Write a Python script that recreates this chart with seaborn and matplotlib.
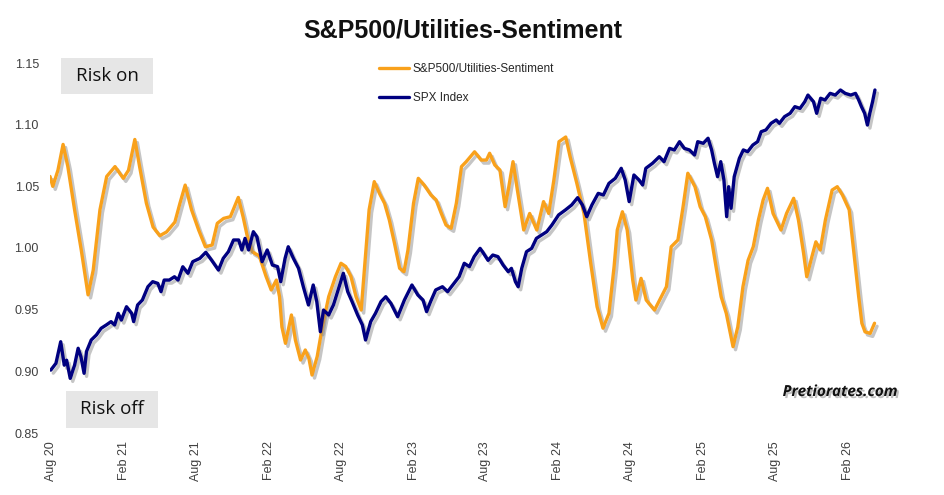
import matplotlib
matplotlib.use("Agg")
import matplotlib.pyplot as plt
import matplotlib.dates as mdates
import matplotlib.patheffects as pe
from matplotlib.lines import Line2D
from matplotlib.patches import Rectangle
import pandas as pd
import seaborn as sns

# ---------------- data ----------------
series_names = ["S&P500/Utilities-Sentiment", "SPX Index"]
series_colors = ["#F9A11B", "#000080"]

sentiment_dates = [
    "2020-07-29", "2020-08-05", "2020-08-18", "2020-08-31", "2020-09-12", "2020-09-29", "2020-10-16",
    "2020-11-02", "2020-11-15", "2020-12-02", "2020-12-19", "2021-01-09", "2021-01-30", "2021-02-12",
    "2021-02-28", "2021-03-12", "2021-03-29", "2021-04-15", "2021-05-02", "2021-05-19", "2021-06-09",
    "2021-06-22", "2021-07-05", "2021-07-21", "2021-08-08", "2021-08-25", "2021-09-11", "2021-09-24",
    "2021-10-10", "2021-10-27", "2021-11-16", "2021-11-28", "2021-12-08", "2021-12-21", "2022-01-08",
    "2022-01-25", "2022-02-07", "2022-02-20", "2022-02-28", "2022-03-06", "2022-03-15", "2022-03-30",
    "2022-04-09", "2022-04-22", "2022-05-04", "2022-05-13", "2022-05-21", "2022-06-03", "2022-06-16",
    "2022-07-02", "2022-07-19", "2022-08-02", "2022-08-14", "2022-08-27", "2022-09-09", "2022-09-22",
    "2022-09-30", "2022-10-12", "2022-10-25", "2022-11-07", "2022-11-20", "2022-12-02", "2022-12-15",
    "2022-12-28", "2023-01-08", "2023-01-18", "2023-02-01", "2023-02-13", "2023-02-28", "2023-03-17",
    "2023-03-30", "2023-04-12", "2023-04-24", "2023-05-07", "2023-05-20", "2023-06-02", "2023-06-14",
    "2023-07-05", "2023-07-22", "2023-08-04", "2023-08-12", "2023-08-25", "2023-09-07", "2023-09-20",
    "2023-09-28", "2023-10-10", "2023-10-21", "2023-11-06", "2023-11-21", "2023-12-09", "2023-12-26",
    "2024-01-08", "2024-01-21", "2024-02-03", "2024-02-20", "2024-03-02", "2024-03-19", "2024-04-06",
    "2024-04-23", "2024-05-09", "2024-05-24", "2024-06-08", "2024-06-21", "2024-06-29", "2024-07-12",
    "2024-07-24", "2024-08-07", "2024-08-15", "2024-08-28", "2024-09-10", "2024-10-01", "2024-10-18",
    "2024-10-31", "2024-11-12", "2024-11-29", "2024-12-12", "2024-12-24", "2025-01-11", "2025-01-24",
    "2025-02-06", "2025-02-22", "2025-03-05", "2025-03-18", "2025-03-31", "2025-04-17", "2025-04-29",
    "2025-05-12", "2025-05-25", "2025-06-07", "2025-06-20", "2025-07-02", "2025-07-13", "2025-07-27",
    "2025-08-16", "2025-08-30", "2025-09-17", "2025-09-29", "2025-10-12", "2025-10-20", "2025-11-02",
    "2025-11-12", "2025-11-23", "2025-12-06", "2025-12-23", "2026-01-05", "2026-01-18", "2026-02-04",
    "2026-02-16", "2026-02-28", "2026-03-08", "2026-03-16", "2026-03-29", "2026-04-09",
]
sentiment_values = [
    1.058, 1.050, 1.063, 1.084, 1.066, 1.031, 0.998,
    0.962, 0.982, 1.031, 1.058, 1.066, 1.0565, 1.063,
    1.088, 1.066, 1.0365, 1.017, 1.010, 1.013, 1.021,
    1.0365, 1.051, 1.031, 1.0146, 1.001, 1.0024, 1.020,
    1.024, 1.0254, 1.041, 1.0254, 1.0105, 0.997, 0.9935,
    0.977, 0.966, 0.974, 0.9605, 0.936, 0.9227, 0.9457,
    0.9254, 0.9092, 0.9173, 0.9106, 0.897, 0.912, 0.936,
    0.9605, 0.9767, 0.9876, 0.985, 0.977, 0.9605, 0.9497,
    0.982, 1.031, 1.0538, 1.0443, 1.0362, 1.0227, 1.0038,
    0.9835, 0.9808, 0.9984, 1.0362, 1.0565, 1.051, 1.043,
    1.039, 1.0281, 1.0186, 1.016, 1.0362, 1.066, 1.070,
    1.078, 1.0713, 1.0713, 1.0768, 1.0673, 1.0632, 1.0335,
    1.047, 1.070, 1.047, 1.0146, 1.028, 1.0146, 1.0376,
    1.028, 1.055, 1.0862, 1.090, 1.074, 1.0524, 1.028,
    0.9876, 0.9524, 0.935, 0.947, 0.985, 1.0146, 1.0294,
    1.0146, 0.974, 0.9578, 0.9754, 0.9578, 0.9497, 0.9605,
    0.9686, 1.001, 1.0065, 1.0335, 1.0606, 1.0497, 1.0335,
    1.0254, 1.0065, 0.985, 0.9605, 0.947, 0.920, 0.936,
    0.9686, 0.990, 1.001, 1.0227, 1.039, 1.0484, 1.028,
    1.0146, 1.028, 1.0403, 1.0227, 0.9957, 0.9767, 0.993,
    1.005, 0.9984, 1.0227, 1.047, 1.0497, 1.043, 1.031,
    0.9957, 0.9605, 0.939, 0.932, 0.9308, 0.939,
]

spx_dates = [
    "2020-07-31", "2020-08-13", "2020-08-25", "2020-09-03", "2020-09-09",
    "2020-09-18", "2020-09-29", "2020-10-08", "2020-10-15", "2020-10-23",
    "2020-10-29", "2020-11-10", "2020-11-23", "2020-12-05", "2020-12-18",
    "2020-12-30", "2021-01-08", "2021-01-17", "2021-01-25", "2021-02-07",
    "2021-02-20", "2021-02-25", "2021-03-07", "2021-03-19", "2021-04-02",
    "2021-04-14", "2021-04-27", "2021-05-05", "2021-05-13", "2021-05-26",
    "2021-06-08", "2021-06-17", "2021-06-29", "2021-07-12", "2021-07-24",
    "2021-08-11", "2021-08-26", "2021-09-10", "2021-09-27", "2021-10-09",
    "2021-10-22", "2021-11-04", "2021-11-17", "2021-11-25", "2021-12-03",
    "2021-12-12", "2021-12-24", "2022-01-02", "2022-01-15", "2022-01-28",
    "2022-02-10", "2022-02-23", "2022-03-03", "2022-03-14", "2022-03-22",
    "2022-04-04", "2022-04-17", "2022-04-29", "2022-05-12", "2022-05-24",
    "2022-06-02", "2022-06-11", "2022-06-19", "2022-07-02", "2022-07-14",
    "2022-07-27", "2022-08-08", "2022-08-19", "2022-08-30", "2022-09-13",
    "2022-09-25", "2022-10-03", "2022-10-16", "2022-10-28", "2022-11-11",
    "2022-11-23", "2022-12-06", "2022-12-23", "2023-01-09", "2023-01-28",
    "2023-02-12", "2023-02-25", "2023-03-06", "2023-03-16", "2023-03-29",
    "2023-04-15", "2023-04-28", "2023-05-14", "2023-05-27", "2023-06-09",
    "2023-06-22", "2023-07-04", "2023-07-19", "2023-07-25", "2023-08-08",
    "2023-08-20", "2023-09-02", "2023-09-15", "2023-09-28", "2023-10-06",
    "2023-10-16", "2023-10-23", "2023-11-01", "2023-11-13", "2023-11-26",
    "2023-12-08", "2023-12-21", "2024-01-03", "2024-01-16", "2024-02-02",
    "2024-02-19", "2024-03-06", "2024-03-21", "2024-04-02", "2024-04-13",
    "2024-04-26", "2024-05-12", "2024-05-25", "2024-06-08", "2024-06-24",
    "2024-07-09", "2024-07-19", "2024-07-29", "2024-08-10", "2024-08-23",
    "2024-09-01", "2024-09-09", "2024-09-26", "2024-10-13", "2024-10-25",
    "2024-11-08", "2024-11-20", "2024-12-03", "2024-12-15", "2024-12-28",
    "2025-01-10", "2025-01-18", "2025-02-01", "2025-02-13", "2025-02-22",
    "2025-03-01", "2025-03-09", "2025-03-17", "2025-03-25", "2025-04-01",
    "2025-04-06", "2025-04-12", "2025-04-20", "2025-05-03", "2025-05-13",
    "2025-05-24", "2025-06-06", "2025-06-18", "2025-06-27", "2025-07-09",
    "2025-07-22", "2025-08-04", "2025-08-12", "2025-08-25", "2025-09-08",
    "2025-09-20", "2025-10-03", "2025-10-15", "2025-10-23", "2025-11-06",
    "2025-11-14", "2025-11-24", "2025-12-05", "2025-12-18", "2025-12-31",
    "2026-01-13", "2026-01-25", "2026-02-08", "2026-02-20", "2026-02-28",
    "2026-03-07", "2026-03-15", "2026-03-22", "2026-03-28", "2026-04-04",
    "2026-04-10",
]
spx_values = [
    0.901, 0.9065, 0.924, 0.905, 0.909,
    0.8943, 0.905, 0.9187, 0.9119, 0.8984,
    0.916, 0.9254, 0.9295, 0.9349, 0.9376,
    0.9403, 0.9376, 0.947, 0.9416, 0.9524,
    0.947, 0.9403, 0.9538, 0.9578, 0.9686,
    0.9727, 0.9713, 0.9646, 0.974, 0.974,
    0.9767, 0.974, 0.9848, 0.9795, 0.9889,
    0.9916, 0.9965, 0.990, 0.9821, 0.9916,
    0.997, 1.0065, 1.0065, 0.9984, 1.0078,
    0.9984, 1.0132, 1.009, 0.9889, 0.9984,
    0.9862, 0.9849, 0.9727, 0.9916, 1.001,
    0.9916, 0.9835, 0.9686, 0.9538, 0.970,
    0.9565, 0.9321, 0.9497, 0.9457, 0.9538,
    0.9673, 0.9795, 0.9646, 0.9565, 0.9457,
    0.9376, 0.9254, 0.9403, 0.947, 0.9565,
    0.9605, 0.9551, 0.9443, 0.9578, 0.970,
    0.9619, 0.9578, 0.9484, 0.9565, 0.966,
    0.9686, 0.9646, 0.9713, 0.9767, 0.9876,
    0.9849, 0.993, 0.9997, 0.997, 0.990,
    0.9943, 0.993, 0.9862, 0.9808, 0.9835,
    0.9727, 0.9686, 0.9835, 0.997, 0.9997,
    1.0078, 1.0105, 1.0132, 1.0186, 1.0268,
    1.0308, 1.0349, 1.0408, 1.0349, 1.0254,
    1.0349, 1.0443, 1.043, 1.0524, 1.0565,
    1.0646, 1.0551, 1.0376, 1.0592, 1.0551,
    1.0511, 1.0646, 1.0687, 1.074, 1.070,
    1.0808, 1.0795, 1.0862, 1.0808, 1.0795,
    1.0754, 1.0862, 1.0849, 1.089, 1.0795,
    1.0687, 1.0578, 1.070, 1.0551, 1.0254,
    1.0497, 1.0322, 1.0578, 1.0727, 1.0795,
    1.0781, 1.0835, 1.0862, 1.0943, 1.0957,
    1.1011, 1.1038, 1.1011, 1.1065, 1.1092,
    1.1146, 1.1132, 1.1186, 1.124, 1.1186,
    1.1092, 1.1214, 1.12, 1.1254, 1.124,
    1.1281, 1.1254, 1.124, 1.1254, 1.12,
    1.1146, 1.1092, 1.0997, 1.1092, 1.1186,
    1.1281,
]

y_ticks = [0.85, 0.90, 0.95, 1.00, 1.05, 1.10, 1.15]
title_text = "S&P500/Utilities-Sentiment"
box_texts = ["Risk on", "Risk off"]
brand_text = "Pretiorates.com"

# ---------------- figure ----------------
sns.set_theme(style="white")
plt.rcParams["font.family"] = ["Liberation Sans", "DejaVu Sans"]

W, H = 945, 495
fig = plt.figure(figsize=(W / 100, H / 100), dpi=100)
fig.patch.set_facecolor("white")

def fx(px):
    return px / W

def fy(py):
    return 1 - py / H

ax = fig.add_axes([fx(50), fy(433), fx(913) - fx(50), fy(63) - fy(433)])
ax.set_facecolor("white")

df = pd.concat([
    pd.DataFrame({"date": pd.to_datetime(sentiment_dates), "value": sentiment_values, "series": series_names[0]}),
    pd.DataFrame({"date": pd.to_datetime(spx_dates), "value": spx_values, "series": series_names[1]}),
])

sns.lineplot(data=df, x="date", y="value", hue="series", hue_order=series_names,
             palette=series_colors, estimator=None, linewidth=2.4, legend=False, ax=ax)

for ln in ax.lines:
    ln.set_solid_joinstyle("round")
    ln.set_path_effects([pe.SimpleLineShadow(offset=(1.8, -2.2), shadow_color="#7f7f7f", alpha=0.45),
                         pe.Normal()])

ax.set_ylim(0.85, 1.15)
ax.set_yticks(y_ticks)
ax.yaxis.set_major_formatter(plt.FormatStrFormatter("%.2f"))
ax.set_xlim(pd.Timestamp("2020-07-29"), pd.Timestamp("2026-07-15"))
ax.xaxis.set_major_locator(mdates.MonthLocator(bymonth=[2, 8], bymonthday=1))
ax.xaxis.set_major_formatter(mdates.DateFormatter("%b %y"))
ax.tick_params(axis="x", rotation=90, length=0, pad=6, labelsize=9, labelcolor="#404040")
ax.tick_params(axis="y", length=0, pad=8, labelsize=9, labelcolor="#404040")
ax.set_xlabel("")
ax.set_ylabel("")
ax.grid(False)
for s in ax.spines.values():
    s.set_visible(False)

# legend
handles = [Line2D([], [], color=c, lw=2.4) for c in series_colors]
leg = fig.legend(handles, series_names, loc="upper left", bbox_to_anchor=(fx(374), fy(58)),
                 frameon=False, fontsize=8.5, handlelength=2.6, handletextpad=0.3,
                 labelspacing=1.5, borderaxespad=0)
for t in leg.get_texts():
    t.set_color("#262626")

# title
fig.text(fx(463), fy(30), title_text, ha="center", va="center", fontsize=18,
         fontweight="bold", color="#111111")

# Risk boxes
for (x0, y0, x1, y1), txt in zip([(61, 58, 153, 94), (66, 391, 158, 428)], box_texts):
    fig.add_artist(Rectangle((fx(x0), fy(y1)), fx(x1) - fx(x0), fy(y0) - fy(y1),
                             transform=fig.transFigure, facecolor="#E6E6E6", edgecolor="none", zorder=5))
    fig.text(fx((x0 + x1) / 2), fy((y0 + y1) / 2), txt, ha="center", va="center",
             fontsize=13.5, family=["Open Sans", "DejaVu Sans"], color="#111111", zorder=6)

# brand
fig.text(fx(840), fy(392), brand_text, ha="center", va="center", fontsize=11,
         fontweight="bold", fontstyle="italic", family=["Open Sans", "DejaVu Sans"], color="#111111",
         path_effects=[pe.SimplePatchShadow(offset=(1.5, -1.5), shadow_rgbFace="#808080", alpha=0.5),
                       pe.Normal()])

fig.savefig("out.png", dpi=100, facecolor="white")
